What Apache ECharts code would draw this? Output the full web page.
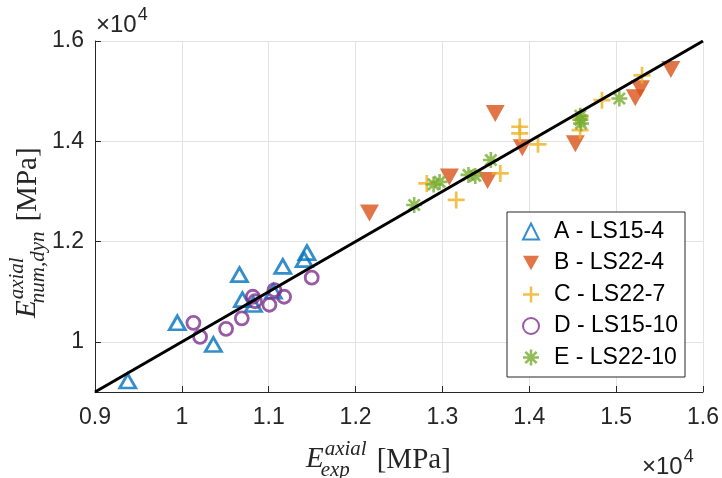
<!DOCTYPE html>
<html>
<head>
<meta charset="utf-8">
<script src="https://cdn.jsdelivr.net/npm/echarts@6/dist/echarts.min.js"></script>
<style>
  html, body { margin: 0; padding: 0; background: #fff; }
  #chart { width: 722px; height: 478px; }
</style>
</head>
<body>
<div id="chart"></div>
<script>
// values in MPa
const seriesNames = ['A - LS15-4', 'B - LS22-4', 'C - LS22-7', 'D - LS15-10', 'E - LS22-10']
const dataA = [[9377, 9219], [9948, 10380], [10363, 9948], [10663, 11340], [10697, 10843],
  [10824, 10744], [11054, 11008], [11162, 11505], [11408, 11640], [11440, 11780]]
const dataB = [[12160, 12570], [13080, 13290], [13520, 13220], [13608, 14555], [13920, 13870],
  [14530, 13950], [15220, 14870], [15280, 15050], [15630, 15430]]
const dataC = [[12820, 13160], [13159, 12830], [13666, 13360], [13890, 14290], [13890, 14157],
  [14100, 13940], [14585, 14487], [14585, 14222], [14837, 14820], [15298, 15316]]
const dataD = [[10133, 10380], [10210, 10100], [10509, 10260], [10690, 10470], [10817, 10900],
  [10843, 10810], [11008, 10740], [11066, 11030], [11177, 10900], [11495, 11280]]
const dataE = [[12675, 12730], [12898, 13140], [12967, 13190], [13300, 13330], [13378, 13310],
  [13558, 13626], [14588, 14510], [14596, 14356], [14588, 14430], [15037, 14853]]
const refLine = [[9000, 9000], [16000, 16000]]
const yTicks = [10000, 12000, 14000, 16000]

const colors = ['#0072BD', '#D95319', '#EDB120', '#7E2F8E', '#77AC30']
const sansFont = '"Liberation Sans", Arial, Helvetica, sans-serif'
const serifFont = '"Liberation Serif", "Times New Roman", "DejaVu Serif", serif'

const downTri = 'path://M0,0 L100,0 L50,90 Z'
const plusPath = 'path://M42,0 H58 V42 H100 V58 H58 V100 H42 V58 H0 V42 H42 Z'
const starPath = 'path://M42,0 H58 V42 H100 V58 H58 V100 H42 V58 H0 V42 H42 Z' +
  ' M21,9 L91,79 L79,91 L9,21 Z M79,9 L91,21 L21,91 L9,79 Z'

const tickFmt = v => String(+(v / 10000).toFixed(1))

const chart = echarts.init(document.getElementById('chart'), null, { renderer: 'canvas' })

// measure helper for the latex-like labels
const ctx = document.createElement('canvas').getContext('2d')
function textW(font, s) {
  ctx.font = font
  return ctx.measureText(s).width
}

function mathLabel(sub, pos, rotation) {
  const fE = 'italic 29px ' + serifFont
  const fS = 'italic 21px ' + serifFont
  const fU = '29px ' + serifFont
  const wE = textW(fE, 'E')
  const wSup = textW(fS, 'axial')
  const wSub = textW(fS, sub)
  const after = Math.max(wE + 1 + wSup, wE - 3 + wSub) + 10
  return {
    type: 'group',
    x: pos[0],
    y: pos[1],
    rotation: rotation,
    children: [
      { type: 'text', x: 0, y: 0, style: { text: 'E', font: fE, fill: '#262626', verticalAlign: 'middle' } },
      { type: 'text', x: wE + 1, y: -10, style: { text: 'axial', font: fS, fill: '#262626', verticalAlign: 'middle' } },
      { type: 'text', x: wE - 3, y: 11, style: { text: sub, font: fS, fill: '#262626', verticalAlign: 'middle' } },
      { type: 'text', x: after, y: 1, style: { text: '[MPa]', font: fU, fill: '#262626', verticalAlign: 'middle' } }
    ]
  }
}

function expLabel(x, y) {
  const f = '24px ' + sansFont
  const w = textW(f, '\u00d710')
  return {
    type: 'group',
    x: x,
    y: y,
    children: [
      { type: 'text', x: 0, y: 0, style: { text: '\u00d710', font: f, fill: '#262626', verticalAlign: 'middle' } },
      { type: 'text', x: w + 1, y: -10, style: { text: '4', font: '18px ' + sansFont, fill: '#262626', verticalAlign: 'middle' } }
    ]
  }
}

function scatter(name, data, symbol, size, color, open) {
  return {
    name: name,
    type: 'scatter',
    data: data,
    symbol: symbol,
    symbolSize: size,
    itemStyle: open
      ? { color: 'rgba(255,255,255,0)', borderColor: color, borderWidth: 2.8 }
      : { color: color, borderWidth: 0 },
    emphasis: { disabled: true }
  }
}

const axisCommon = {
  type: 'value',
  min: 9000,
  max: 16000,
  interval: 1000,
  axisLine: { show: true, onZero: false, lineStyle: { color: '#262626', width: 1 } },
  axisTick: { show: true, inside: true, length: 6, lineStyle: { color: '#262626', width: 1 } },
  axisLabel: { formatter: tickFmt, color: '#262626', fontSize: 23, fontFamily: sansFont },
  splitLine: { show: true, lineStyle: { color: '#e3e3e3', width: 1 } }
}

const option = {
  animation: false,
  backgroundColor: '#fff',
  grid: { left: 95, right: 19, top: 41, bottom: 86, containLabel: false },
  xAxis: Object.assign({}, axisCommon, {
    axisLabel: Object.assign({}, axisCommon.axisLabel, { margin: 14 })
  }),
  yAxis: Object.assign({}, axisCommon, {
    axisTick: Object.assign({}, axisCommon.axisTick, { customValues: yTicks }),
    axisLabel: Object.assign({}, axisCommon.axisLabel, { margin: 11, customValues: yTicks }),
    splitLine: { show: false }
  }),
  legend: {
    orient: 'vertical',
    left: 507,
    top: 212,
    data: seriesNames,
    backgroundColor: '#fff',
    borderColor: '#262626',
    borderWidth: 1,
    borderRadius: 0,
    padding: [8, 7, 8, 15],
    itemWidth: 16,
    itemHeight: 16,
    itemGap: 8.5,
    textStyle: { color: '#000', fontSize: 23, fontFamily: sansFont, lineHeight: 23, padding: [0, 0, 0, 10] }
  },
  series: [
    scatter(seriesNames[0], dataA, 'triangle', [16, 14], colors[0], true),
    scatter(seriesNames[1], dataB, downTri, [19, 17], colors[1], false),
    scatter(seriesNames[2], dataC, plusPath, 17, colors[2], false),
    scatter(seriesNames[3], dataD, 'circle', 13, colors[3], true),
    scatter(seriesNames[4], dataE, starPath, 16, colors[4], false),
    {
      name: 'ref',
      type: 'line',
      data: refLine,
      symbol: 'none',
      silent: true,
      lineStyle: { color: '#000', width: 3 },
      z: 3,
      // horizontal grid lines at the labelled y ticks only
      markLine: {
        silent: true,
        symbol: 'none',
        label: { show: false },
        lineStyle: { color: '#e3e3e3', width: 1, type: 'solid' },
        z: 0,
        data: yTicks.map(v => ({ yAxis: v }))
      }
    }
  ],
  graphic: [
    mathLabel('exp', [306, 459], 0),
    mathLabel('num,dyn', [27, 318], Math.PI / 2),
    expLabel(96, 25),
    expLabel(642, 467)
  ]
}

chart.setOption(option)
</script>
</body>
</html>
